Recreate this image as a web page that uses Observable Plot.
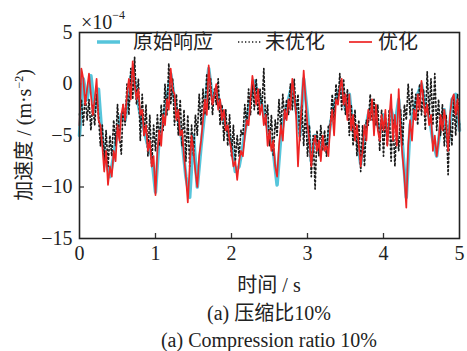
<!DOCTYPE html>
<html><head><meta charset="utf-8">
<script src="https://cdn.jsdelivr.net/npm/d3@7"></script>
<script src="https://cdn.jsdelivr.net/npm/@observablehq/plot@0.6"></script>
<style>
html,body{margin:0;padding:0;background:#fff;}
#wrap{position:relative;width:467px;height:351px;background:#fff;overflow:hidden;color:#222;}
#wrap svg text{font-family:"Liberation Serif","Times New Roman",serif !important;}
.serif{font-family:"Liberation Serif","Times New Roman",serif;}
.cjk{font-family:"Liberation Serif","Noto Sans CJK SC",serif;}
.abs{position:absolute;white-space:nowrap;}
</style>
</head><body>
<div id="wrap"></div>
<script>
// sample intervals (s)
const dtOriginal = 0.05;
const dtFine = 0.025;

// 原始响应 (×1e-4 m/s²), every 0.05 s
const original = [
-5.0,0.5,-1.5,0.8,-2.5,-0.5,-5.5,-7.5,-9.0,-7.0,
-4.5,-3.0,-3.5,-0.5,1.5,-1.0,-3.0,-4.5,-6.0,-7.0,
-10.5,-5.0,-3.5,-1.5,1.0,-1.5,-3.5,-5.5,-9.0,-11.0,
-5.0,-10.0,-6.0,-2.5,1.5,-1.5,-0.5,-2.0,-3.5,-4.5,
-6.0,-8.5,-8.0,-6.0,-3.5,-1.5,0.3,-1.0,-2.0,-3.5,
-5.0,-6.5,-9.8,-5.0,-3.0,-1.5,0.0,-2.5,-5.0,0.5,
-3.0,-7.5,-5.0,-6.5,-5.5,-6.5,-4.0,-2.0,-1.0,0.0,
-2.5,-1.0,-4.5,-5.0,-7.8,-5.0,-3.0,-2.0,-3.5,-4.5,
-3.0,-5.0,-2.5,-4.0,-1.5,-6.0,-11.0,-4.0,-2.5,-1.0,
0.0,-2.0,-3.0,-5.5,-7.0,-4.0,-2.5,-6.0,-1.5,-1.0,
-4.5];

// 未优化, every 0.025 s
const unoptimized = [
-3,-1.5,-4,-1,-3.5,-1.5,-4.5,-2,-4,-1,
-3,-6,-4,-7.5,-4.5,-8,-5,-7,-3.5,-6,
-2,-5,-6.8,-2,-4,0,-3,1.5,-1.5,2.6,
-2,0.5,-5.5,-1,-5,-2,-7,-3,-8,-4,
-6.5,-3,-6,-2,-4.5,0,-3,2.0,-2,0.5,
-4,-1,-5,-1.5,-6,-2.5,-7.5,-3,-8,-4,
-7,-3,-5,-1,-4,-0.5,-3,1.0,-2.5,0.5,
-3,-0.5,-2,0.5,-4,-2,-5.5,-2.5,-6,-3,
-7,-4,-7.5,-5,-7,-4.5,-5,-2,-4,-0.5,
-3,0,-2.5,0.5,-3,-0.5,-2.5,1.5,-4,-2,
-6,-3,-7,-3.5,-5,-1.5,-4.5,-1,-3.5,-1.5,
-3,0,-2.5,0.5,-3,-1,-5.5,-2,-6,-2.5,
-7,-4,-9,-5,-10.2,-4.5,-7,-4,-6.5,-4.5,
-7,-4,-4,-1,-3.5,0,-2,1,-2.5,0.5,
-3,-0.5,-5,-2,-6,-2.5,-7,-3.5,-8.5,-4,
-8,-3.5,-4,-1,-3.5,-1.5,-4,-2,-6.5,-2.5,
-7,-3,-6,-2.5,-7.5,-3.5,-8,-4,-6.5,-2.5,
-6,-2,-3.5,0,-3,-0.5,-3.5,-1,-4,0,
-3,-0.5,-4.5,1.2,-3,0.5,-4,1.0,-4.5,-1.5,
-5,-2,-6,-3,-8.8,-3.5,-6,-1.5,-5,-1,
-4];

// 优化, every 0.025 s
const optimized = [
-4.0,1.5,0.5,-2.0,-0.5,1.0,-1.0,-3.0,-1.5,0.5,
-3.5,-4.0,-6.0,-8.5,-6.5,-9.8,-8.0,-9.0,-6.5,-7.5,
-4.0,-5.5,-3.0,-2.0,-3.5,-1.0,0.5,-1.5,2.2,0.0,
-1.5,-0.5,-3.0,-2.5,-5.0,-4.0,-6.5,-5.5,-8.0,-7.0,
-10.8,-6.5,-4.5,-6.0,-3.0,-4.0,-1.5,-2.5,1.5,-0.5,
-1.0,-3.5,-2.5,-5.0,-4.5,-7.0,-9.0,-11.5,-8.0,-5.0,
-6.5,-8.5,-10.0,-7.0,-5.5,-3.5,-1.5,-3.0,1.8,-0.5,
-2.0,-1.0,0.0,-2.5,-1.5,-3.5,-2.5,-4.5,-4.0,-5.5,
-6.5,-8.0,-7.5,-9.3,-7.5,-6.5,-7.0,-5.0,-3.5,-4.0,
-1.5,0.8,-0.5,-2.0,-0.5,-3.0,-2.0,-4.0,-3.0,-6.0,
-4.5,-6.5,-5.5,-8.0,-9.0,-6.0,-4.0,-5.5,-2.5,-3.5,
-1.5,-2.5,0.5,-1.0,-3.0,-8.0,-4.5,-2.0,1.3,-1.5,
-4.0,-5.5,-8.0,-6.0,-5.0,-6.5,-5.5,-7.5,-5.0,-6.5,
-6.0,-7.0,-4.0,-2.5,-5.0,-1.5,-2.0,-0.5,0.5,-2.0,
-1.0,-3.5,-1.0,-4.5,-3.0,-5.5,-4.0,-6.0,-8.0,-6.5,
-4.0,-5.5,-2.5,-3.5,-1.5,-5.0,-2.0,-4.5,-5.5,-3.0,
-4.5,-2.5,-6.0,-3.5,-1.0,-5.5,-3.0,-6.0,-0.5,-4.5,
-7.0,-9.0,-12.0,-6.0,-3.5,-5.5,-2.5,-3.5,-1.0,-2.5,
0.3,-1.5,-3.0,-2.0,-4.0,-3.0,-6.5,-5.0,-7.0,-5.5,
-3.0,-4.5,-2.5,-4.0,-6.5,-3.0,-1.5,-1.0,-3.0,-1.5,
-4.5];

const xTicks = [0, 1, 2, 3, 4, 5];
const yTicks = [-15, -10, -5, 0, 5];
const seriesNames = ["原始响应", "未优化", "优化"];
const seriesColors = ["#56c5db", "#1a1a1a", "#ee2424"];

const W = 467, H = 300;
const mT = 32, mR = 8, mB = 62, mL = 79;
const innerH = H - mT - mB, innerW = W - mL - mR;
const fmt = d => d < 0 ? "\u2212" + (-d) : String(d);
const serifFont = "'Liberation Serif','Times New Roman',serif";

const chart = Plot.plot({
  width: W, height: H,
  marginTop: mT, marginRight: mR, marginBottom: mB, marginLeft: mL,
  style: {fontFamily: serifFont, fontSize: "20px", color: "#222", background: "transparent", overflow: "visible"},
  x: {domain: [0, 5], label: null},
  y: {domain: [-15, 5], label: null},
  marks: [
    Plot.axisX(xTicks, {tickSize: 0, tickPadding: 7, tickFormat: fmt, fontSize: 20, fontFamily: serifFont, fill: "#222"}),
    Plot.axisY(yTicks, {tickSize: 0, tickPadding: 7, tickFormat: fmt, fontSize: 20, fontFamily: serifFont, fill: "#222"}),
    Plot.tickX(xTicks.slice(1, -1), {x: d => d, stroke: "#333", strokeWidth: 1.3, insetTop: innerH - 5}),
    Plot.tickY(yTicks.slice(1, -1), {y: d => d, stroke: "#333", strokeWidth: 1.3, insetRight: innerW - 5}),
    Plot.line(original, {x: (d, i) => i * dtOriginal, y: d => d, stroke: seriesColors[0], strokeWidth: 3.5, strokeLinejoin: "round"}),
    Plot.line(unoptimized, {x: (d, i) => i * dtFine, y: d => d, stroke: seriesColors[1], strokeWidth: 1.7, strokeDasharray: "1.5 2.6"}),
    Plot.line(optimized, {x: (d, i) => i * dtFine, y: d => d, stroke: seriesColors[2], strokeWidth: 1.7, strokeLinejoin: "round"}),
    Plot.frame({stroke: "#222", strokeWidth: 1.6})
  ]
});

const wrap = document.getElementById("wrap");
const chartBox = document.createElement("div");
chartBox.className = "abs";
chartBox.style.left = "0px"; chartBox.style.top = "0px";
chartBox.appendChild(chart);
wrap.appendChild(chartBox);

// legend (inside plot, top)
const legendPos = [
  {sw: 97, tx: 133},
  {sw: 238, tx: 265},
  {sw: 349, tx: 378}
];
seriesNames.forEach((name, i) => {
  const s = document.createElementNS("http://www.w3.org/2000/svg", "svg");
  s.setAttribute("width", 24); s.setAttribute("height", 8);
  s.style.position = "absolute"; s.style.left = legendPos[i].sw + "px"; s.style.top = "38px";
  const l = document.createElementNS("http://www.w3.org/2000/svg", "line");
  l.setAttribute("x1", 0); l.setAttribute("x2", 23); l.setAttribute("y1", 4); l.setAttribute("y2", 4);
  l.setAttribute("stroke", seriesColors[i]);
  l.setAttribute("stroke-width", i === 0 ? 3.5 : (i === 1 ? 1.5 : 1.7));
  if (i === 1) l.setAttribute("stroke-dasharray", "1.3 2.2");
  s.appendChild(l);
  wrap.appendChild(s);
  const t = document.createElement("div");
  t.className = "abs cjk";
  t.style.left = legendPos[i].tx + "px"; t.style.top = "29px";
  t.style.fontSize = "20px"; t.style.lineHeight = "26px";
  t.textContent = name;
  wrap.appendChild(t);
});

function addText(html, css, cls) {
  const d = document.createElement("div");
  d.className = "abs " + (cls || "cjk");
  d.innerHTML = html;
  Object.assign(d.style, css);
  wrap.appendChild(d);
  return d;
}
// exponent
addText('×10<span style="font-size:12px;position:relative;top:-10px;">\u22124</span>', {left: "81px", top: "9px", fontSize: "20px", lineHeight: "26px"}, "serif");
// y label
addText('加速度 / (m·s<span style="font-size:12px;position:relative;top:-8px;">\u22122</span>)',
  {left: "25px", top: "135px", fontSize: "20px", lineHeight: "24px", transform: "translate(-50%,-50%) rotate(-90deg)"});
// x label
addText('时间 / s', {left: "269px", top: "272px", fontSize: "20px", lineHeight: "26px", transform: "translateX(-50%)"});
// captions
addText('(a) 压缩比10%', {left: "269px", top: "300px", fontSize: "20px", lineHeight: "26px", transform: "translateX(-50%)"});
addText('(a) Compression ratio 10%', {left: "269px", top: "327px", fontSize: "20px", lineHeight: "26px", transform: "translateX(-50%)"}, "serif");
</script>
</body></html>
